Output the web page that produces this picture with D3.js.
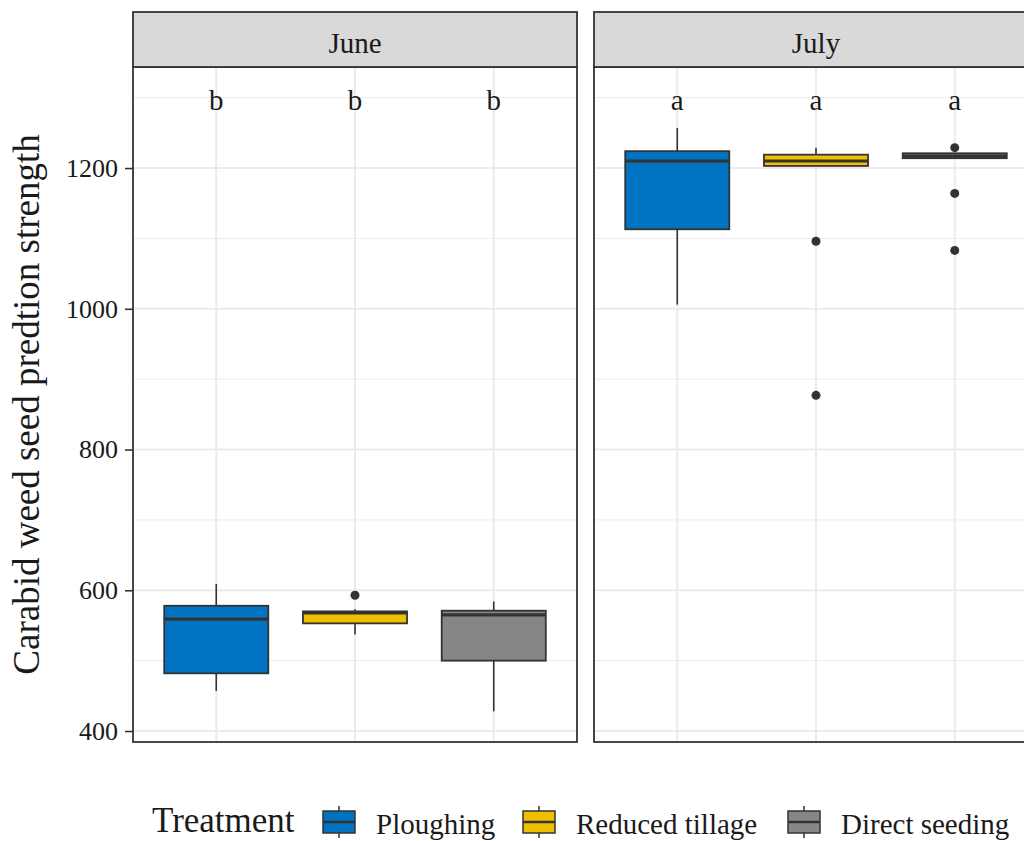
<!DOCTYPE html>
<html>
<head>
<meta charset="utf-8">
<script src="https://cdn.jsdelivr.net/npm/d3@7"></script>
<style>
    body { margin: 0; background: #fff; }
    text { font-family: "Liberation Serif", "Times New Roman", serif; fill: #1a1a1a; }
</style>
</head>
<body>
<div id="chart"></div>
<script>
// facets, groups and colours
const months = ["June", "July"];
const treatments = ["Ploughing", "Reduced tillage", "Direct seeding"];
const colors = ["#0073C2", "#EFC000", "#868686"];

// boxplot stats per month (rows) and treatment (columns)
const whiskerLow  = [[457, 537, 428], [1006, 1203, 1214]];
const q1          = [[482, 553, 500], [1113, 1203, 1214]];
const median      = [[559, 568, 565], [1210, 1210, 1217]];
const q3          = [[578, 570, 571], [1224, 1219, 1221]];
const whiskerHigh = [[609, 573, 584], [1257, 1229, 1221]];
const outliers    = [[[], [593], []], [[], [1096, 877], [1229, 1164, 1083]]];

// significance letters drawn at a fixed height
const letters = [["b", "b", "b"], ["a", "a", "a"]];
const letterValue = 1300;

const yTicks = [400, 600, 800, 1000, 1200];
const yMinorTicks = [500, 700, 900, 1100, 1300];

const W = 1024, H = 841;
const panel = {top: 67, bottom: 742, left: 133, width: 444, gap: 17, strip: 55};
const ink = "#333333";
const textSize = 29;

const svg = d3.select("#chart").append("svg")
    .attr("width", W)
    .attr("height", H);

// y domain = data range expanded by 5% like ggplot
let lo = d3.min(whiskerLow.flat());
let hi = letterValue;
let pad = (hi - lo) * 0.05;
const y = d3.scaleLinear()
    .domain([lo - pad, hi + pad])
    .range([panel.bottom, panel.top]);

const x = d3.scalePoint()
    .domain(treatments)
    .range([0, panel.width])
    .padding(0.6);
const boxW = x.step() * 0.75;

months.forEach((month, m) => {
    let px = panel.left + m * (panel.width + panel.gap);
    let g = svg.append("g").attr("transform", `translate(${px},0)`);

    // grid
    g.selectAll(".minor").data(yMinorTicks).enter().append("line")
        .attr("x1", 0).attr("x2", panel.width)
        .attr("y1", d => y(d)).attr("y2", d => y(d))
        .attr("stroke", "#EBEBEB").attr("stroke-width", 1);
    g.selectAll(".major").data(yTicks).enter().append("line")
        .attr("x1", 0).attr("x2", panel.width)
        .attr("y1", d => y(d)).attr("y2", d => y(d))
        .attr("stroke", "#EBEBEB").attr("stroke-width", 2);
    g.selectAll(".vgrid").data(treatments).enter().append("line")
        .attr("x1", d => x(d)).attr("x2", d => x(d))
        .attr("y1", panel.top).attr("y2", panel.bottom)
        .attr("stroke", "#EBEBEB").attr("stroke-width", 2);

    // boxes
    treatments.forEach((t, i) => {
        let cx = x(t);
        let bg = g.append("g");
        bg.append("line")
            .attr("x1", cx).attr("x2", cx)
            .attr("y1", y(whiskerHigh[m][i])).attr("y2", y(q3[m][i]))
            .attr("stroke", ink).attr("stroke-width", 1.6);
        bg.append("line")
            .attr("x1", cx).attr("x2", cx)
            .attr("y1", y(q1[m][i])).attr("y2", y(whiskerLow[m][i]))
            .attr("stroke", ink).attr("stroke-width", 1.6);
        bg.append("rect")
            .attr("x", cx - boxW / 2)
            .attr("width", boxW)
            .attr("y", y(q3[m][i]))
            .attr("height", Math.max(y(q1[m][i]) - y(q3[m][i]), 0.5))
            .attr("fill", colors[i])
            .attr("stroke", ink).attr("stroke-width", 1.8);
        bg.append("line")
            .attr("x1", cx - boxW / 2).attr("x2", cx + boxW / 2)
            .attr("y1", y(median[m][i])).attr("y2", y(median[m][i]))
            .attr("stroke", ink).attr("stroke-width", 3.2);
        bg.selectAll("circle").data(outliers[m][i]).enter().append("circle")
            .attr("cx", cx).attr("cy", d => y(d)).attr("r", 4.5)
            .attr("fill", ink);
        g.append("text")
            .attr("x", cx).attr("y", y(letterValue))
            .attr("dy", "0.41em")
            .attr("text-anchor", "middle")
            .style("font-size", textSize + "px")
            .text(letters[m][i]);
    });

    // panel border
    g.append("rect")
        .attr("x", 0).attr("y", panel.top)
        .attr("width", panel.width).attr("height", panel.bottom - panel.top)
        .attr("fill", "none").attr("stroke", ink).attr("stroke-width", 1.8);

    // strip
    g.append("rect")
        .attr("x", 0).attr("y", panel.top - panel.strip)
        .attr("width", panel.width).attr("height", panel.strip)
        .attr("fill", "#D9D9D9").attr("stroke", ink).attr("stroke-width", 1.8);
    g.append("text")
        .attr("x", panel.width / 2).attr("y", panel.top - panel.strip / 2)
        .attr("dy", "0.45em")
        .attr("text-anchor", "middle")
        .style("font-size", textSize + "px")
        .text(month);
});

// y axis
const yAxis = d3.axisLeft(y).tickValues(yTicks).tickFormat(d3.format("d"))
    .tickSize(8).tickPadding(7);
const yAxisGroup = svg.append("g")
    .attr("transform", `translate(${panel.left},0)`)
    .call(yAxis);
yAxisGroup.select(".domain").remove();
yAxisGroup.selectAll("line").attr("stroke", ink).attr("stroke-width", 1.6);
yAxisGroup.selectAll("text")
    .style("font-size", "26px")
    .style("font-family", "Liberation Serif")
    .attr("fill", "#333333");

svg.append("text")
    .attr("transform", `translate(26,${(panel.top + panel.bottom) / 2}) rotate(-90)`)
    .attr("dy", "0.35em")
    .attr("text-anchor", "middle")
    .style("font-size", "37px")
    .text("Carabid weed seed predtion strength");

// legend
const legend = svg.append("g").attr("transform", "translate(0,822)");
legend.append("text")
    .attr("x", 152).attr("y", 10)
    .style("font-size", "35px")
    .text("Treatment");

const keyX = [323, 523, 788];
const keyW = 32, keyH = 22;
treatments.forEach((t, i) => {
    let k = legend.append("g").attr("transform", `translate(${keyX[i]},0)`);
    k.append("line")
        .attr("x1", keyW / 2).attr("x2", keyW / 2)
        .attr("y1", -keyH / 2 - 5).attr("y2", keyH / 2 + 5)
        .attr("stroke", ink).attr("stroke-width", 1.5);
    k.append("rect")
        .attr("x", 0).attr("y", -keyH / 2)
        .attr("width", keyW).attr("height", keyH)
        .attr("fill", colors[i])
        .attr("stroke", ink).attr("stroke-width", 1.5);
    k.append("line")
        .attr("x1", 0).attr("x2", keyW)
        .attr("y1", 0).attr("y2", 0)
        .attr("stroke", ink).attr("stroke-width", 2.5);
    legend.append("text")
        .attr("x", keyX[i] + keyW + 21).attr("y", 2).attr("dy", "0.35em")
        .style("font-size", textSize + "px")
        .text(t);
});
</script>
</body>
</html>
